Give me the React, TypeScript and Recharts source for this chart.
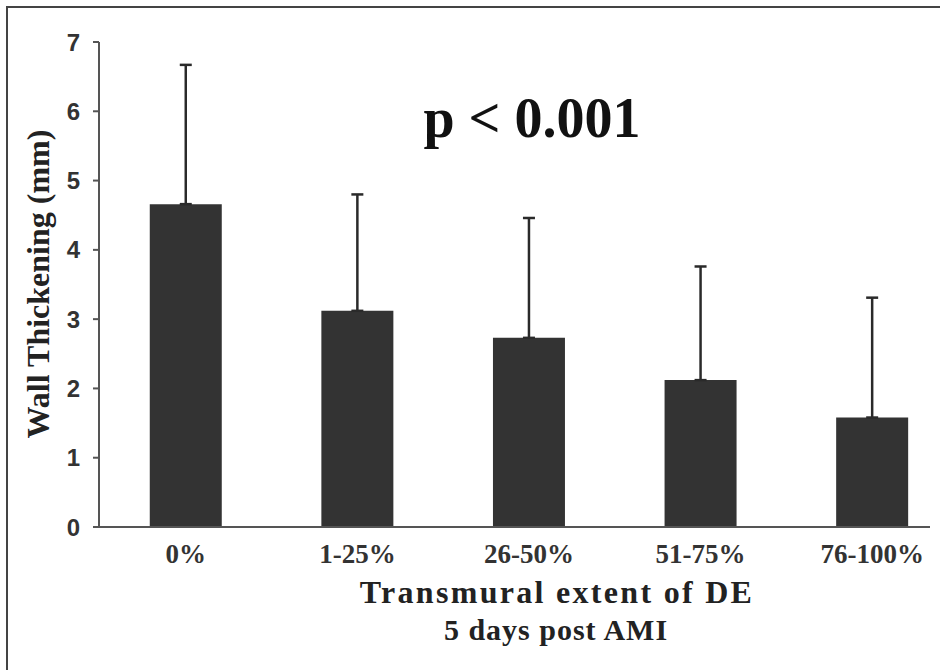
import { BarChart, Bar, XAxis, YAxis, ErrorBar } from "recharts"

const categories = ["0%", "1-25%", "26-50%", "51-75%", "76-100%"]
const meanThickening = [4.66, 3.12, 2.73, 2.12, 1.58]
const sdThickening = [2.01, 1.68, 1.73, 1.64, 1.73]
const yTicks = [0, 1, 2, 3, 4, 5, 6, 7]

const data = categories.map((name, i) => ({
  name,
  mean: meanThickening[i],
  sd: [0, sdThickening[i]],
}))

const SERIF = "'Liberation Serif', 'Times New Roman', serif"
const NARROW = "'Liberation Sans Narrow', 'Liberation Sans', Arial, sans-serif"

export default function App() {
  return (
    <div style={{ position: "absolute", left: 0, top: 0, width: 940, height: 670, background: "#fff", overflow: "hidden" }}>
      {/* frame: only top and left edges show */}
      <div style={{ position: "absolute", left: 6, top: 6, width: 960, height: 700, borderTop: "2px solid #444", borderLeft: "2px solid #444" }} />

      <BarChart
        width={940}
        height={670}
        data={data}
        margin={{ top: 42, right: 10, bottom: 0, left: 0 }}
        barCategoryGap="29%"
        style={{ position: "absolute", left: 0, top: 0 }}
      >
        <XAxis
          dataKey="name"
          height={143}
          padding={{ left: 1, right: -28 }}
          axisLine={{ stroke: "#555", strokeWidth: 2 }}
          tickLine={false}
          tickSize={0}
          tickMargin={17}
          tick={{ fill: "#333", fontSize: 27, fontWeight: "bold", fontFamily: SERIF }}
        />
        <YAxis
          width={99}
          domain={[0, 7]}
          ticks={yTicks}
          allowDecimals={false}
          axisLine={{ stroke: "#555", strokeWidth: 2 }}
          tickLine={{ stroke: "#555", strokeWidth: 2 }}
          tickSize={6}
          tickMargin={13}
          tick={{ fill: "#333", fontSize: 24, fontWeight: "bold", fontFamily: NARROW }}
        />
        <Bar dataKey="mean" fill="#333" isAnimationActive={false}>
          <ErrorBar dataKey="sd" direction="y" width={6} stroke="#2a2a2a" strokeWidth={2.5} />
        </Bar>
      </BarChart>

      <div style={{ position: "absolute", left: 232, top: 90, width: 600, textAlign: "center", fontFamily: SERIF, fontWeight: "bold", fontSize: 56, lineHeight: "56px", color: "#111" }}>
        p &lt; 0.001
      </div>

      <div style={{ position: "absolute", left: 38 - 200, top: 284 - 16, width: 400, height: 32, textAlign: "center", fontFamily: SERIF, fontWeight: "bold", fontSize: 32, lineHeight: "32px", color: "#222", transform: "rotate(-90deg)", whiteSpace: "nowrap" }}>
        Wall Thickening (mm)
      </div>

      <div style={{ position: "absolute", left: 257, top: 576, width: 600, textAlign: "center", fontFamily: SERIF, fontWeight: "bold", fontSize: 32, lineHeight: "32px", letterSpacing: 2.3, color: "#222", whiteSpace: "nowrap" }}>
        Transmural extent of DE
      </div>

      <div style={{ position: "absolute", left: 256, top: 615, width: 600, textAlign: "center", fontFamily: SERIF, fontWeight: "bold", fontSize: 30, lineHeight: "30px", letterSpacing: 1, color: "#222", whiteSpace: "nowrap" }}>
        5 days post AMI
      </div>
    </div>
  )
}
